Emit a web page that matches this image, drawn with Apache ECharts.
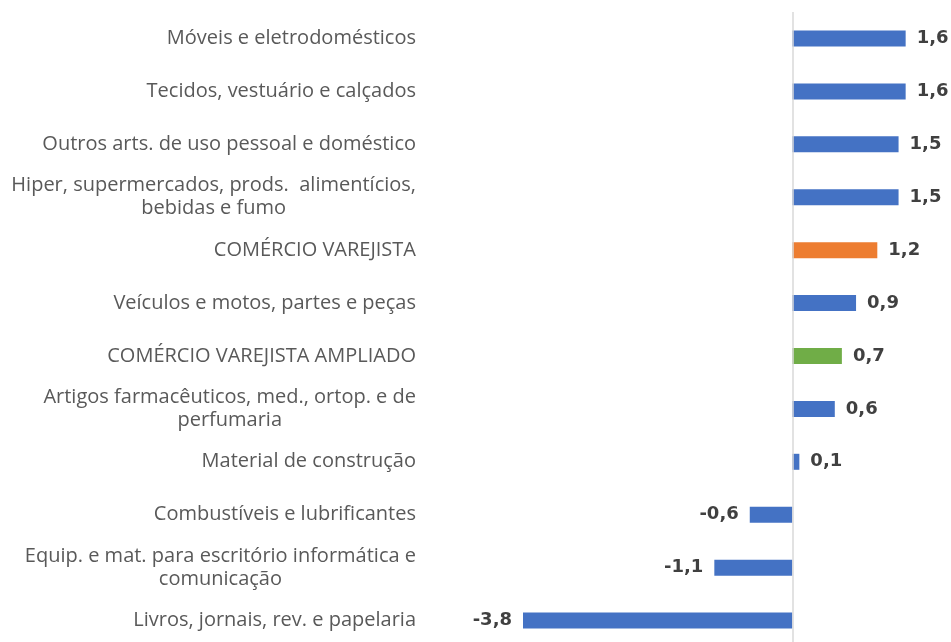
<!DOCTYPE html>
<html>
<head>
<meta charset="utf-8">
<script src="https://cdn.jsdelivr.net/npm/echarts@6/dist/echarts.min.js"></script>
<style>
    html, body { margin: 0; padding: 0; background: #fff; }
    #chart { width: 951px; height: 642px; }
</style>
</head>
<body>
<div id="chart"></div>
<script>
// categorias (de cima para baixo)
const categories = [
    'Móveis e eletrodomésticos',
    'Tecidos, vestuário e calçados',
    'Outros arts. de uso pessoal e doméstico',
    'Hiper, supermercados, prods.  alimentícios,\nbebidas e fumo',
    'COMÉRCIO VAREJISTA',
    'Veículos e motos, partes e peças',
    'COMÉRCIO VAREJISTA AMPLIADO',
    'Artigos farmacêuticos, med., ortop. e de\nperfumaria',
    'Material de construção',
    'Combustíveis e lubrificantes',
    'Equip. e mat. para escritório informática e\ncomunicação',
    'Livros, jornais, rev. e papelaria'
];
const values = [1.6, 1.6, 1.5, 1.5, 1.2, 0.9, 0.7, 0.6, 0.1, -0.6, -1.1, -3.8];

// cores das barras de destaque
const barColor = '#4472C4';
const highlight = {
    'COMÉRCIO VAREJISTA': '#ED7D31',
    'COMÉRCIO VAREJISTA AMPLIADO': '#70AD47'
};

const fmt = v => v.toFixed(1).replace('.', ',');

const chart = echarts.init(document.getElementById('chart'));

const seriesData = values.map((v, i) => ({
    value: v,
    itemStyle: { color: highlight[categories[i]] || barColor },
    label: { position: v < 0 ? 'left' : 'right' }
}));

const option = {
    animation: false,
    grid: {
        left: 523,
        top: 12,
        width: 411,
        height: 635,
        outerBoundsMode: 'none'
    },
    xAxis: {
        type: 'value',
        min: -3.8,
        max: 2.0,
        show: false
    },
    yAxis: {
        type: 'category',
        data: categories,
        inverse: true,
        axisLine: { show: false },
        axisTick: { show: false },
        axisLabel: {
            margin: 107,
            color: '#595959',
            fontFamily: 'Open Sans',
            fontSize: 20,
            formatter: name => name.split('\n').map(s => '{c|' + s + '}').join('\n'),
            rich: {
                c: {
                    align: 'center',
                    color: '#595959',
                    fontFamily: 'Open Sans',
                    fontSize: 20,
                    lineHeight: 23
                }
            }
        }
    },
    series: [
        {
            type: 'bar',
            data: seriesData,
            barWidth: 16,
            label: {
                show: true,
                distance: 11,
                color: '#404040',
                fontFamily: 'DejaVu Sans',
                fontWeight: 'bold',
                fontSize: 18,
                formatter: p => fmt(p.value)
            },
            markLine: {
                silent: true,
                symbol: 'none',
                label: { show: false },
                lineStyle: { color: '#D9D9D9', type: 'solid', width: 1.5 },
                data: [{ xAxis: 0 }]
            }
        }
    ]
};

chart.setOption(option);
</script>
</body>
</html>
